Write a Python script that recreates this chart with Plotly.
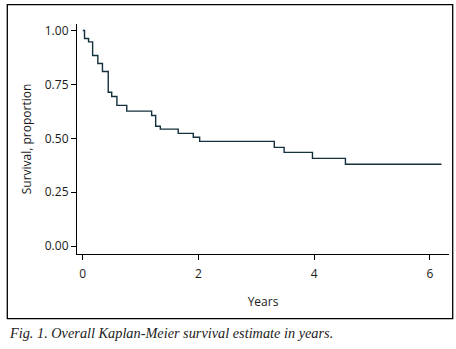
import plotly.graph_objects as go

# Kaplan-Meier step data (years, survival proportion)
times = [0.0, 0.03, 0.10, 0.17, 0.26, 0.34, 0.44, 0.50, 0.59, 0.76, 1.19, 1.26,
         1.34, 1.65, 1.91, 2.02, 3.31, 3.48, 3.97, 4.54, 6.20]
survival = [1.00, 0.963, 0.947, 0.884, 0.847, 0.810, 0.714, 0.694, 0.653, 0.626,
            0.606, 0.556, 0.543, 0.523, 0.505, 0.486, 0.458, 0.435, 0.407, 0.380, 0.380]

x_ticks = [0, 2, 4, 6]
y_ticks = [0.0, 0.25, 0.5, 0.75, 1.0]
caption = "Fig. 1. Overall Kaplan-Meier survival estimate in years."

W, H = 456, 349
ml, mr, mt, mb = 77, 7, 24, 95
pw, ph = W - ml - mr, H - mt - mb

def px(xp):
    return (xp - ml) / pw

def py(yp):
    return (H - mb - yp) / ph

line_col = "#14303d"

fig = go.Figure()
fig.add_trace(go.Scatter(x=times, y=survival, mode="lines",
                         line=dict(shape="hv", color=line_col, width=1.4),
                         showlegend=False, hoverinfo="skip"))

axis_font = dict(family="Open Sans, Noto Sans, sans-serif", size=12, color="#1a1a1a")

fig.update_layout(
    width=W, height=H,
    margin=dict(l=ml, r=mr, t=mt, b=mb, autoexpand=False),
    paper_bgcolor="white", plot_bgcolor="white",
    font=axis_font,
    xaxis=dict(range=[-0.10, 6.33], tickvals=x_ticks, ticks="outside", ticklen=5,
               tickcolor="black", tickwidth=1, showline=True, linecolor="black",
               linewidth=1.2, showgrid=False, zeroline=False, automargin=False,
               ticklabelstandoff=3,
               title=dict(text="Years", font=axis_font, standoff=17),
               tickfont=axis_font),
    yaxis=dict(range=[-0.036, 1.03], tickvals=y_ticks, tickformat=".2f",
               ticks="outside", ticklen=5, tickcolor="black", tickwidth=1,
               showline=True, linecolor="black", linewidth=1.2, showgrid=False,
               zeroline=False, automargin=False,
               title=dict(text="Survival, proportion", font=axis_font, standoff=10),
               tickfont=axis_font),
    shapes=[dict(type="rect", xref="paper", yref="paper",
                 x0=px(7.3), x1=px(452.7), y0=py(318.7), y1=py(4.7),
                 line=dict(color="black", width=1.3), fillcolor="rgba(0,0,0,0)",
                 layer="below")],
    annotations=[dict(text="<i>" + caption + "</i>", xref="paper", yref="paper",
                      x=px(7), y=py(333), xanchor="left", yanchor="middle",
                      showarrow=False,
                      font=dict(family="Liberation Serif, serif", size=14.3,
                                color="#222222"))],
)

fig.write_html("out.html", config={"displayModeBar": False},
               post_script="document.body.style.margin='0';document.body.style.padding='0';")
